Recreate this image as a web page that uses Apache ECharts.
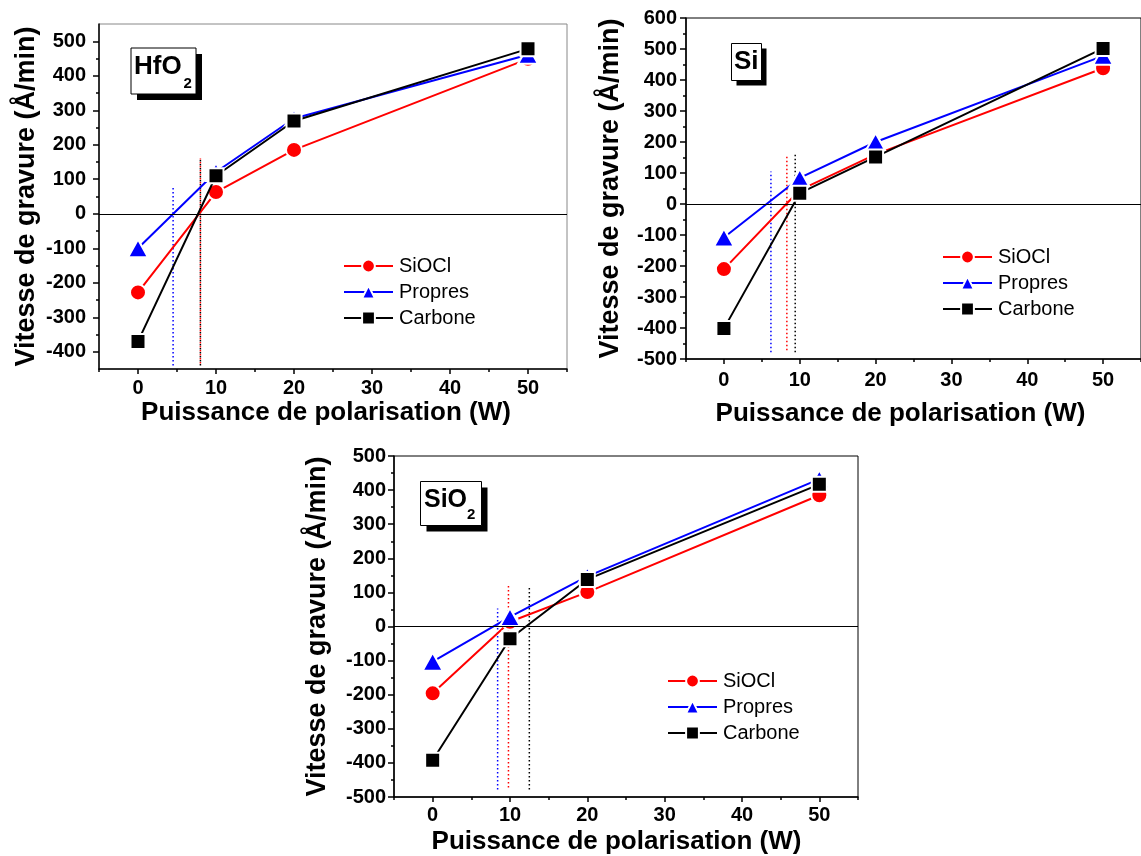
<!DOCTYPE html>
<html><head><meta charset="utf-8">
<script src="https://cdn.jsdelivr.net/npm/echarts@6/dist/echarts.min.js"></script>
<style>html,body{margin:0;padding:0;background:#fff}#c{width:1141px;height:856px}</style>
</head><body><div id="c"></div>
<script>
// ---------- DATA ----------
const powers = [0, 10, 20, 50];
const seriesNames = ['SiOCl', 'Propres', 'Carbone'];
// HfO2
const hfo2SiOCl   = [-228, 63, 185, 449];
const hfo2Propres = [-100, 121, 276, 461];
const hfo2Carbone = [-370, 110, 269, 478];
// Si
const siSiOCl   = [-210, 45, 160, 438];
const siPropres = [-108, 84, 200, 478];
const siCarbone = [-402, 35, 152, 502];
// SiO2
const sio2SiOCl   = [-196, 14, 101, 385];
const sio2Propres = [-103, 28, 147, 432];
const sio2Carbone = [-392, -36, 138, 417];
// dotted threshold lines (SiOCl, Propres, Carbone): x position, top and bottom values
const hfo2ThreshX   = [8.0, 4.5, 8.0];
const hfo2ThreshTop = [160, 78, 160];
const siThreshX     = [8.3, 6.2, 9.4];
const siThreshTop   = [154, 105, 166];
const sio2ThreshX   = [9.8, 8.4, 12.5];
const sio2ThreshTop = [119, 53, 118];
const threshBottom  = [-440, -478, -478];
// tick values
const xTickLabels = [0, 10, 20, 30, 40, 50];
const xMinorTicks = [-5, 5, 15, 25, 35, 45, 55];
const hfo2YTicks = [-400, -300, -200, -100, 0, 100, 200, 300, 400, 500];
const hfo2YMinor = [-350, -250, -150, -50, 50, 150, 250, 350, 450];
const siYTicks   = [-500, -400, -300, -200, -100, 0, 100, 200, 300, 400, 500, 600];
const siYMinor   = [-450, -350, -250, -150, -50, 50, 150, 250, 350, 450, 550];
const sio2YTicks = [-500, -400, -300, -200, -100, 0, 100, 200, 300, 400, 500];
const sio2YMinor = [-450, -350, -250, -150, -50, 50, 150, 250, 350, 450];
const panelLabels = ['HfO', 'Si', 'SiO'];
const panelSubs = ['2', '', '2'];
const xTitle = 'Puissance de polarisation (W)';
const yTitle = 'Vitesse de gravure (Å/min)';

// ---------- LAYOUT / STYLE ----------
const FONT = "'Liberation Sans', Arial, sans-serif";
const colors = ['#ff0000', '#0000ff', '#000000'];
const symbols = ['circle', 'triangle', 'rect'];
const symbolSizes = [16, [20, 18], 15];

const panels = [
  { left: 99, top: 24, width: 468, height: 345, border: '#888', ymin: -450, ymax: 550,
    yTicks: hfo2YTicks, yMinor: hfo2YMinor, vals: [hfo2SiOCl, hfo2Propres, hfo2Carbone],
    thX: hfo2ThreshX, thTop: hfo2ThreshTop, thBottom: threshBottom[0],
    yNameGap: 59, xNameGap: 31, xNamePadR: 14, xLabelMargin: 9, yLabelMargin: 13,
    legend: { left: 338, top: 251 },
    box: { x: 131, y: 48, w: 65, h: 46, off: 6 }, txt: { x: 134, y: 67, size: 26 }, sub: { x: 183.5, y: 84 } },
  { left: 686, top: 18, width: 468, height: 341, border: '#000', ymin: -500, ymax: 600,
    yTicks: siYTicks, yMinor: siYMinor, vals: [siSiOCl, siPropres, siCarbone],
    thX: siThreshX, thTop: siThreshTop, thBottom: threshBottom[1],
    yNameGap: 62, xNameGap: 42, xNamePadR: 26, xLabelMargin: 11, yLabelMargin: 9,
    legend: { left: 937, top: 242 },
    box: { x: 731.5, y: 43.5, w: 30, h: 37, off: 5 }, txt: { x: 734, y: 62, size: 26 }, sub: null },
  { left: 394, top: 456, width: 464, height: 344, border: '#000', ymin: -500, ymax: 500,
    yTicks: sio2YTicks, yMinor: sio2YMinor, vals: [sio2SiOCl, sio2Propres, sio2Carbone],
    thX: sio2ThreshX, thTop: sio2ThreshTop, thBottom: threshBottom[2],
    yNameGap: 63, xNameGap: 32, xNamePadR: 19, xLabelMargin: 8, yLabelMargin: 8,
    legend: { left: 662, top: 666 },
    box: { x: 420.5, y: 481.5, w: 61, h: 44, off: 6 }, txt: { x: 424, y: 500, size: 25 }, sub: { x: 467, y: 515 } }
];

const option = { animation: false, backgroundColor: '#fff', grid: [], xAxis: [], yAxis: [], series: [], legend: [], graphic: [] };
const labelStyle = { fontSize: 20, fontWeight: 'bold', fontFamily: FONT, color: '#000' };

panels.forEach((p, k) => {
  option.grid.push({ left: p.left, top: p.top, width: p.width, height: p.height, show: true,
    borderColor: p.border, borderWidth: 1, backgroundColor: '#fff' });
  const xi = option.xAxis.length;
  option.xAxis.push({ type: 'value', gridIndex: k, min: -5, max: 55, interval: 5, position: 'bottom',
    axisLine: { show: true, onZero: false, lineStyle: { color: '#000', width: 1.5 } },
    axisTick: { show: true, customValues: xTickLabels, length: 5, lineStyle: { color: '#000', width: 1.5 } },
    axisLabel: Object.assign({ customValues: xTickLabels, margin: p.xLabelMargin }, labelStyle),
    splitLine: { show: false },
    name: xTitle, nameLocation: 'middle', nameGap: p.xNameGap,
    nameTextStyle: { fontSize: 26, fontWeight: 'bold', fontFamily: FONT, color: '#000', padding: [0, p.xNamePadR, 0, 0] } });
  option.xAxis.push({ type: 'value', gridIndex: k, min: -5, max: 55, interval: 5, position: 'bottom',
    axisLine: { show: false, onZero: false },
    axisTick: { show: true, customValues: xMinorTicks, length: 3, lineStyle: { color: '#000', width: 1.5 } },
    axisLabel: { show: false }, splitLine: { show: false } });
  const yi = option.yAxis.length;
  option.yAxis.push({ type: 'value', gridIndex: k, min: p.ymin, max: p.ymax, interval: 50, position: 'left',
    axisLine: { show: true, onZero: false, lineStyle: { color: '#000', width: 1.5 } },
    axisTick: { show: true, customValues: p.yTicks, length: 6, lineStyle: { color: '#000', width: 1.5 } },
    axisLabel: Object.assign({ customValues: p.yTicks, margin: p.yLabelMargin }, labelStyle),
    splitLine: { show: false },
    name: yTitle, nameLocation: 'middle', nameGap: p.yNameGap, nameRotate: 90,
    nameTextStyle: { fontSize: 27, fontWeight: 'bold', fontFamily: FONT, color: '#000' } });
  option.yAxis.push({ type: 'value', gridIndex: k, min: p.ymin, max: p.ymax, interval: 50, position: 'left',
    axisLine: { show: false, onZero: false },
    axisTick: { show: true, customValues: p.yMinor, length: 3, lineStyle: { color: '#000', width: 1.5 } },
    axisLabel: { show: false }, splitLine: { show: false } });

  // dotted threshold lines
  [0, 1, 2].forEach(j => {
    option.series.push({ type: 'line', name: 'seuil-' + k + '-' + j, xAxisIndex: xi, yAxisIndex: yi,
      data: [[p.thX[j], p.thBottom], [p.thX[j], p.thTop[j]]], symbol: 'none', silent: true, z: 1,
      lineStyle: { color: colors[j], width: 1.5, type: [1.5, 2.5], dashOffset: j === 0 ? 2 : 0 } });
  });
  // main series
  seriesNames.forEach((nm, j) => {
    const s = { type: 'line', name: nm, xAxisIndex: xi, yAxisIndex: yi,
      data: powers.map((pw, i) => [pw, p.vals[j][i]]),
      symbol: symbols[j], symbolSize: symbolSizes[j], z: 3 + j,
      lineStyle: { color: colors[j], width: 2 },
      itemStyle: { color: colors[j], borderColor: '#fff', borderWidth: 2 } };
    if (j === 0) {
      s.markLine = { silent: true, symbol: ['none', 'none'], label: { show: false }, animation: false,
        lineStyle: { color: '#000', width: 1, type: 'solid' }, emphasis: { disabled: true }, data: [{ yAxis: 0 }] };
    }
    option.series.push(s);
  });

  option.legend.push({ orient: 'vertical', left: p.legend.left, top: p.legend.top, itemWidth: 49, itemHeight: 16,
    itemGap: 6, selectedMode: false, data: seriesNames,
    textStyle: { fontSize: 20, fontFamily: FONT, color: '#000', padding: [0, 0, 0, 1] } });

  // label box with drop shadow
  const b = p.box;
  option.graphic.push({ type: 'rect', shape: { x: b.x + b.off, y: b.y + b.off, width: b.w, height: b.h }, style: { fill: '#000' }, z: 100 });
  option.graphic.push({ type: 'rect', shape: { x: b.x, y: b.y, width: b.w, height: b.h }, style: { fill: '#fff', stroke: '#000', lineWidth: 1 }, z: 101 });
  option.graphic.push({ type: 'text', x: p.txt.x, y: p.txt.y, z: 102,
    style: { text: panelLabels[k], fontSize: p.txt.size, fontWeight: 'bold', fontFamily: FONT, fill: '#000', verticalAlign: 'middle', align: 'left' } });
  if (p.sub) {
    option.graphic.push({ type: 'text', x: p.sub.x, y: p.sub.y, z: 102,
      style: { text: panelSubs[k], fontSize: 15, fontWeight: 'bold', fontFamily: FONT, fill: '#000', verticalAlign: 'middle', align: 'left' } });
  }
});

const chart = echarts.init(document.getElementById('c'), null, { renderer: 'canvas' });
chart.setOption(option);
</script>
</body></html>
